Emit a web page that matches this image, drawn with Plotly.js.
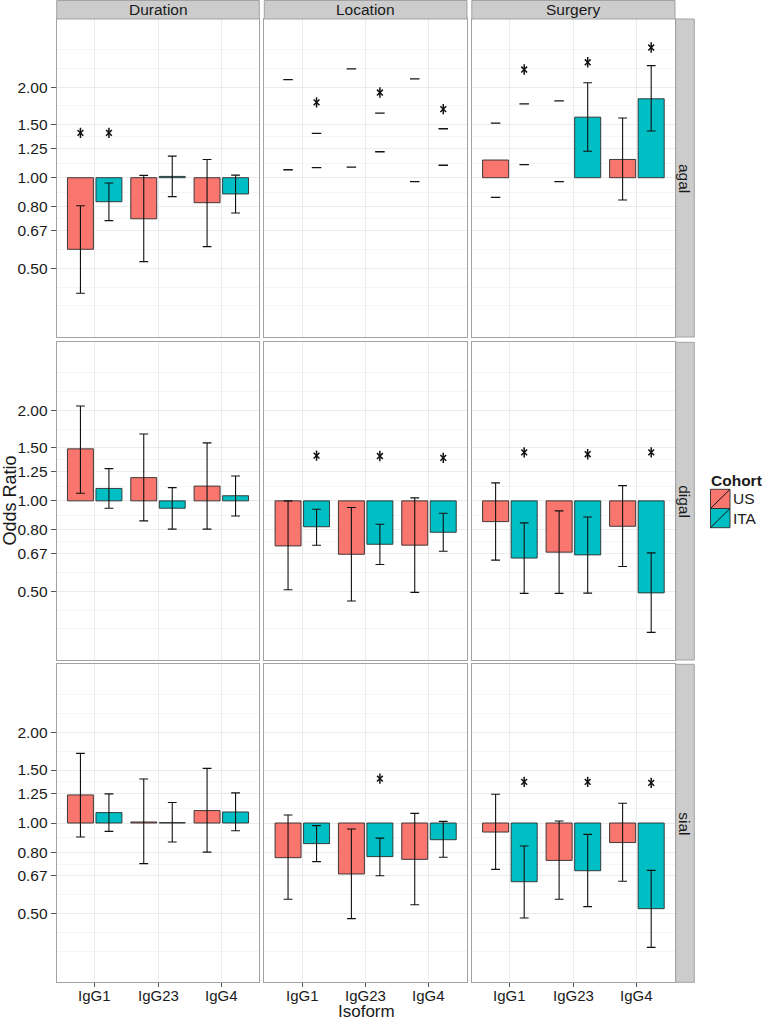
<!DOCTYPE html>
<html>
<head>
<meta charset="utf-8">
<script src="https://cdn.plot.ly/plotly-3.0.1.min.js"></script>
<style>html,body{margin:0;padding:0;background:#fff}#chart{width:762px;height:1020px}</style>
</head>
<body>
<div id="chart"></div>
<script>
// ---- categories ----
const facets = ['Duration', 'Location', 'Surgery'];
const glycans = ['agal', 'digal', 'sial'];
const isoforms = ['IgG1', 'IgG23', 'IgG4'];
const cohorts = ['US', 'ITA'];

// ---- values: [glycan][facet][isoform] ----
const usOR = [
  [[0.578, 0.73, 0.826], [null, null, null], [1.145, null, 1.15]],
  [[1.49, 1.195, 1.12], [0.708, 0.664, 0.712], [0.853, 0.675, 0.823]],
  [[1.24, 1.008, 1.10], [0.767, 0.677, 0.757], [0.933, 0.751, 0.861]]
];
const usLo = [
  [[0.413, 0.526, 0.59], [1.063, 1.085, 0.97], [0.86, 0.97, 0.843]],
  [[1.06, 0.858, 0.805], [0.506, 0.464, 0.496], [0.635, 0.492, 0.605]],
  [[0.898, 0.733, 0.80], [0.558, 0.481, 0.535], [0.701, 0.558, 0.64]]
];
const usHi = [
  [[0.807, 1.018, 1.15], [2.12, 2.30, 2.13], [1.52, 1.80, 1.58]],
  [[2.07, 1.67, 1.56], [1.0, 0.95, 1.023], [1.148, 0.926, 1.124]],
  [[1.705, 1.40, 1.52], [1.063, 0.955, 1.077], [1.246, 1.015, 1.163]]
];
const usStem = [
  [[true, true, true], [false, false, false], [false, false, true]],
  [[true, true, true], [true, true, true], [true, true, true]],
  [[true, true, true], [true, true, true], [true, true, true]]
];
const usStar = [
  [[1.41, null, null], [null, null, null], [null, null, null]],
  [[null, null, null], [null, null, null], [null, null, null]],
  [[null, null, null], [null, null, null], [null, null, null]]
];

const itaOR = [
  [[0.832, 1.01, 0.883], [null, null, null], [null, 1.59, 1.83]],
  [[1.10, 0.945, 1.04], [0.82, 0.717, 0.786], [0.645, 0.661, 0.494]],
  [[1.083, 1.003, 1.088], [0.854, 0.773, 0.88], [0.638, 0.694, 0.519]]
];
const itaLo = [
  [[0.72, 0.865, 0.763], [1.08, 1.22, 1.10], [1.105, 1.224, 1.43]],
  [[0.945, 0.805, 0.89], [0.712, 0.614, 0.68], [0.492, 0.493, 0.365]],
  [[0.938, 0.865, 0.943], [0.744, 0.668, 0.769], [0.483, 0.527, 0.386]]
];
const itaHi = [
  [[0.96, 1.18, 1.02], [1.405, 1.64, 1.455], [1.76, 2.07, 2.36]],
  [[1.28, 1.107, 1.21], [0.938, 0.836, 0.909], [0.845, 0.884, 0.671]],
  [[1.25, 1.17, 1.26], [0.98, 0.891, 1.013], [0.839, 0.917, 0.696]]
];
const itaStem = [
  [[true, true, true], [false, false, false], [false, true, true]],
  [[true, true, true], [true, true, true], [true, true, true]],
  [[true, true, true], [true, true, true], [true, true, true]]
];
const itaStar = [
  [[1.41, null, null], [1.78, 1.92, 1.69], [2.29, 2.42, 2.71]],
  [[null, null, null], [1.415, 1.41, 1.39], [1.45, 1.43, 1.45]],
  [[null, null, null], [null, 1.405, null], [1.37, 1.37, 1.36]]
];

// ---- y-axis breaks ----
const yTickVals = [0.5, 2 / 3, 0.8, 1, 1.25, 1.5, 2];
const yTickText = ['0.50', '0.67', '0.80', '1.00', '1.25', '1.50', '2.00'];

// ---- styling / layout constants ----
const W = 762, H = 1020;
const colX = [[56.7, 259.3], [264.3, 467], [471.8, 675]];
const rowY = [[19, 337], [342.3, 660], [664.3, 982.3]];
const fillCol = {US: '#F8766D', ITA: '#00BFC4'};
const dodge = {US: -0.225, ITA: 0.225};
const barW = 0.41;
const yRange = [-0.5297, 0.5278];
const FONT = 'Liberation Sans';
const textCol = '#1a1a1a';
const TICKSIZE = 15.5;

// minor grid (ggplot style midpoints in log space, with extension)
const lnMaj = yTickVals.map(Math.log);
const ext = [lnMaj[0] - (lnMaj[1] - lnMaj[0])].concat(lnMaj, [lnMaj[lnMaj.length - 1] + (lnMaj[lnMaj.length - 1] - lnMaj[lnMaj.length - 2])]);
const minorVals = [];
for (let i = 0; i < ext.length - 1; i++) {
  minorVals.push(Math.exp((ext[i] + ext[i + 1]) / 2));
}
minorVals.push(Math.exp(ext[0]), Math.exp(ext[ext.length - 1]));

const data = {
  US: {or: usOR, lo: usLo, hi: usHi, stem: usStem, star: usStar},
  ITA: {or: itaOR, lo: itaLo, hi: itaHi, stem: itaStem, star: itaStar}
};

const traces = [];
const layout = {
  width: W, height: H,
  margin: {l: 0, r: 0, t: 0, b: 0},
  paper_bgcolor: '#ffffff', plot_bgcolor: '#ffffff',
  showlegend: false,
  barmode: 'overlay',
  font: {family: FONT, color: textCol},
  shapes: [], annotations: []
};

for (let g = 0; g < 3; g++) {
  for (let f = 0; f < 3; f++) {
    const k = g * 3 + f + 1;
    const xa = k === 1 ? 'x' : 'x' + k;
    const ya = k === 1 ? 'y' : 'y' + k;
    const xKey = k === 1 ? 'xaxis' : 'xaxis' + k;
    const yKey = k === 1 ? 'yaxis' : 'yaxis' + k;

    layout[xKey] = {
      domain: [colX[f][0] / W, colX[f][1] / W],
      anchor: ya, range: [0.4, 3.6],
      tickmode: 'array', tickvals: [1, 2, 3], ticktext: isoforms,
      showticklabels: false, ticks: g === 2 ? 'outside' : '',
      ticklen: 4, tickcolor: '#555', tickwidth: 1,
      showgrid: true, gridcolor: '#ebebeb', gridwidth: 1,
      zeroline: false, showline: true, mirror: true,
      linecolor: '#a3a3a3', linewidth: 1
    };
    layout[yKey] = {
      domain: [1 - rowY[g][1] / H, 1 - rowY[g][0] / H],
      anchor: xa, type: 'log', range: yRange,
      tickmode: 'array', tickvals: yTickVals, ticktext: yTickText,
      showticklabels: f === 0, ticks: f === 0 ? 'outside' : '',
      ticklen: 5, tickcolor: '#555', tickwidth: 1,
      tickfont: {size: TICKSIZE, color: textCol, family: FONT},
      showgrid: true, gridcolor: '#ebebeb', gridwidth: 1,
      minor: {tickmode: 'array', tickvals: minorVals, showgrid: true, gridcolor: '#f5f5f5', gridwidth: 1, ticks: ''},
      zeroline: false, showline: true, mirror: true,
      linecolor: '#a3a3a3', linewidth: 1
    };

    // bottom-row category labels, placed on the x axis scale
    if (g === 2) {
      isoforms.forEach((iso, i) => {
        layout.annotations.push({xref: xa, yref: 'paper', x: i + 1, y: 1 - 995 / H,
          text: iso, showarrow: false, borderpad: 0,
          font: {size: 15, color: textCol, family: FONT},
          xanchor: 'center', yanchor: 'middle'});
      });
    }

    cohorts.forEach(c => {
      const d = data[c];
      const bx = [], by = [];
      const ex = [], ey = [], eu = [], el = [];
      const cx = [], cy = [];
      const sx = [], sy = [];
      isoforms.forEach((iso, i) => {
        const xpos = i + 1 + dodge[c];
        const o = d.or[g][f][i], lo = d.lo[g][f][i], hi = d.hi[g][f][i];
        if (o !== null) { bx.push(xpos); by.push(o - 1); }
        if (d.stem[g][f][i]) {
          ex.push(xpos); ey.push(o); eu.push(hi - o); el.push(o - lo);
        } else {
          cx.push(xpos, xpos); cy.push(lo, hi);
        }
        const st = d.star[g][f][i];
        if (st !== null) { sx.push(xpos); sy.push(st); }
      });
      if (bx.length) {
        traces.push({
          type: 'bar', x: bx, y: by, base: 1, width: barW,
          xaxis: xa, yaxis: ya, name: c,
          marker: {color: fillCol[c], line: {color: '#2b2b2b', width: 0.9}},
          hoverinfo: 'skip'
        });
      }
      if (ex.length) {
        traces.push({
          type: 'scatter', mode: 'markers', x: ex, y: ey,
          xaxis: xa, yaxis: ya,
          marker: {size: 1, color: 'rgba(0,0,0,0)'},
          error_y: {type: 'data', symmetric: false, array: eu, arrayminus: el,
                    color: '#111', thickness: 1.1, width: 4.4},
          hoverinfo: 'skip'
        });
      }
      if (cx.length) {
        traces.push({
          type: 'scatter', mode: 'markers', x: cx, y: cy,
          xaxis: xa, yaxis: ya,
          marker: {symbol: 'line-ew-open', size: 6.8, color: '#111', line: {color: '#111', width: 1.3}},
          hoverinfo: 'skip'
        });
      }
      if (sx.length) {
        traces.push({
          type: 'scatter', mode: 'markers', x: sx, y: sy,
          xaxis: xa, yaxis: ya,
          marker: {symbol: 'line-ns-open', size: 7.4, color: '#111', line: {color: '#111', width: 1.5}},
          hoverinfo: 'skip'
        });
        traces.push({
          type: 'scatter', mode: 'markers', x: sx, y: sy,
          xaxis: xa, yaxis: ya,
          marker: {symbol: 'x-thin-open', size: 5.8, color: '#111', line: {color: '#111', width: 1.5}},
          hoverinfo: 'skip'
        });
      }
    });
  }
}

// ---- strips ----
const stripFill = '#cccccc', stripLine = '#a3a3a3';
facets.forEach((name, f) => {
  layout.shapes.push({type: 'rect', xref: 'paper', yref: 'paper',
    x0: colX[f][0] / W, x1: colX[f][1] / W, y0: 1 - 19 / H, y1: 1 - 0.5 / H,
    fillcolor: stripFill, line: {color: stripLine, width: 1}});
  layout.annotations.push({xref: 'paper', yref: 'paper',
    x: (colX[f][0] + colX[f][1]) / 2 / W, y: 1 - 10 / H,
    text: name, showarrow: false, font: {size: TICKSIZE, color: textCol, family: FONT},
    xanchor: 'center', yanchor: 'middle'});
});
glycans.forEach((name, g) => {
  layout.shapes.push({type: 'rect', xref: 'paper', yref: 'paper',
    x0: 675.7 / W, x1: 694.3 / W, y0: 1 - rowY[g][1] / H, y1: 1 - rowY[g][0] / H,
    fillcolor: stripFill, line: {color: stripLine, width: 1}});
  layout.annotations.push({xref: 'paper', yref: 'paper',
    x: 685 / W, y: 1 - (rowY[g][0] + rowY[g][1]) / 2 / H,
    text: name, showarrow: false, textangle: 90,
    font: {size: TICKSIZE, color: textCol, family: FONT},
    xanchor: 'center', yanchor: 'middle'});
});

// ---- axis titles ----
layout.annotations.push({xref: 'paper', yref: 'paper', x: 10 / W, y: 1 - 500.6 / H,
  text: 'Odds Ratio', textangle: -90, showarrow: false,
  font: {size: 18, color: textCol, family: FONT}, xanchor: 'center', yanchor: 'middle'});
layout.annotations.push({xref: 'paper', yref: 'paper', x: 366 / W, y: 1 - 1011.5 / H,
  text: 'Isoform', showarrow: false, borderpad: 0,
  font: {size: 17, color: textCol, family: FONT}, xanchor: 'center', yanchor: 'middle'});

// ---- legend (drawn manually, ggplot style keys) ----
layout.annotations.push({xref: 'paper', yref: 'paper', x: 709 / W, y: 1 - 480 / H,
  text: '<b>Cohort</b>', showarrow: false,
  font: {size: 15.5, color: textCol, family: FONT}, xanchor: 'left', yanchor: 'middle'});
cohorts.forEach((c, i) => {
  const top = 489.3 + i * 19.2, bot = top + 19.2;
  layout.shapes.push({type: 'rect', xref: 'paper', yref: 'paper',
    x0: 710.5 / W, x1: 730 / W, y0: 1 - bot / H, y1: 1 - top / H,
    fillcolor: fillCol[c], line: {color: '#2b2b2b', width: 0.9}});
  layout.shapes.push({type: 'line', xref: 'paper', yref: 'paper',
    x0: 710.5 / W, x1: 730 / W, y0: 1 - bot / H, y1: 1 - top / H,
    line: {color: '#111', width: 1}});
  layout.annotations.push({xref: 'paper', yref: 'paper', x: 731 / W, y: 1 - (top + bot) / 2 / H,
    text: c, showarrow: false, font: {size: 15.5, color: textCol, family: FONT},
    xanchor: 'left', yanchor: 'middle'});
});

Plotly.newPlot('chart', traces, layout, {staticPlot: true, displayModeBar: false});
</script>
</body>
</html>
